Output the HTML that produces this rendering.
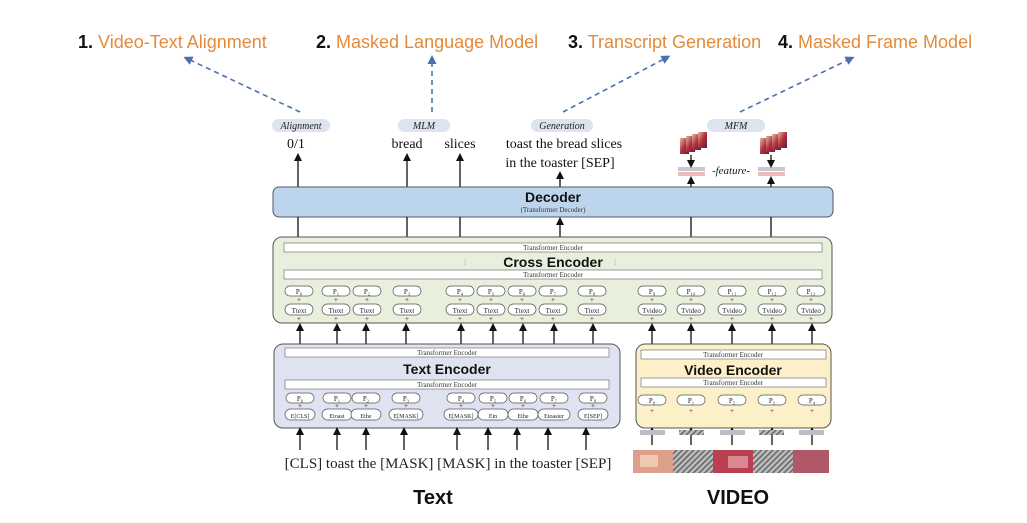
<!DOCTYPE html>
<html><head><meta charset="utf-8"><style>
html,body{margin:0;padding:0;background:#fff;}
svg{display:block;}
.s{font-family:"Liberation Serif",serif;}
.a{font-family:"Liberation Sans",sans-serif;}
</style></head><body>
<svg width="1027" height="523" viewBox="0 0 1027 523" xmlns="http://www.w3.org/2000/svg">
<defs>
<marker id="ah" markerWidth="8" markerHeight="8" refX="4" refY="4" orient="auto" markerUnits="userSpaceOnUse"><path d="M0,0 L8,4 L0,8 z" fill="#111"/></marker>
<marker id="bh" markerWidth="9" markerHeight="9" refX="4" refY="4.5" orient="auto" markerUnits="userSpaceOnUse"><path d="M0,0 L9,4.5 L0,9 z" fill="#4a6fae"/></marker>
<pattern id="hat" width="4" height="4" patternUnits="userSpaceOnUse" patternTransform="rotate(45)"><rect width="4" height="4" fill="#bbb"/><rect width="1.5" height="4" fill="#666"/></pattern>
<linearGradient id="fr" x1="0" y1="0" x2="1" y2="1"><stop offset="0" stop-color="#e8b8a0"/><stop offset="0.5" stop-color="#b03040"/><stop offset="1" stop-color="#602030"/></linearGradient>
</defs>

<!-- top titles -->
<g class="a" font-size="18">
<text x="78" y="48"><tspan font-weight="bold" fill="#111">1.</tspan><tspan fill="#e48a3c"> Video-Text Alignment</tspan></text>
<text x="316" y="48"><tspan font-weight="bold" fill="#111">2.</tspan><tspan fill="#e48a3c"> Masked Language Model</tspan></text>
<text x="568" y="48"><tspan font-weight="bold" fill="#111">3.</tspan><tspan fill="#e48a3c"> Transcript Generation</tspan></text>
<text x="778" y="48"><tspan font-weight="bold" fill="#111">4.</tspan><tspan fill="#e48a3c"> Masked Frame Model</tspan></text>
</g>
<g stroke="#4a6fae" stroke-width="1.6" stroke-dasharray="5,4" fill="none" marker-end="url(#bh)">
<line x1="300" y1="112" x2="188" y2="59"/>
<line x1="432" y1="112" x2="432" y2="60"/>
<line x1="563" y1="112" x2="666" y2="58"/>
<line x1="740" y1="112" x2="850" y2="59"/>
</g>

<!-- task pills -->
<g fill="#dde3ef">
<rect x="272" y="119" width="58" height="13" rx="6.5"/>
<rect x="398" y="119" width="52" height="13" rx="6.5"/>
<rect x="531" y="119" width="62" height="13" rx="6.5"/>
<rect x="707" y="119" width="58" height="13" rx="6.5"/>
</g>
<g class="s" font-style="italic" font-size="10" fill="#222" text-anchor="middle">
<text x="301" y="129">Alignment</text><text x="424" y="129">MLM</text><text x="562" y="129">Generation</text><text x="736" y="129">MFM</text>
</g>
<g class="s" font-size="14" fill="#111" text-anchor="middle">
<text x="296" y="148">0/1</text><text x="407" y="148">bread</text><text x="460" y="148">slices</text>
<text x="564" y="148">toast the bread slices</text><text x="560" y="167">in the toaster [SEP]</text>
</g>

<!-- MFM frames -->
<g>
<rect x="680" y="138" width="9" height="16" fill="url(#fr)"/><rect x="686" y="136" width="9" height="16" fill="url(#fr)"/><rect x="692" y="134" width="9" height="16" fill="url(#fr)"/><rect x="698" y="132" width="9" height="16" fill="url(#fr)"/>
<rect x="760" y="138" width="9" height="16" fill="url(#fr)"/><rect x="766" y="136" width="9" height="16" fill="url(#fr)"/><rect x="772" y="134" width="9" height="16" fill="url(#fr)"/><rect x="778" y="132" width="9" height="16" fill="url(#fr)"/>
<rect x="678" y="167" width="27" height="4" fill="#c8c8d0"/><rect x="678" y="172" width="27" height="4" fill="#f0b8b8"/>
<rect x="758" y="167" width="27" height="4" fill="#c8c8d0"/><rect x="758" y="172" width="27" height="4" fill="#f0b8b8"/>
<text x="731" y="174" class="s" font-style="italic" font-size="11" text-anchor="middle" fill="#222">-feature-</text>
</g>

<!-- arrows decoder -> outputs -->
<g stroke="#111" stroke-width="1.3" marker-end="url(#ah)">
<line x1="298" y1="187" x2="298" y2="157"/>
<line x1="407" y1="187" x2="407" y2="157"/>
<line x1="460" y1="187" x2="460" y2="157"/>
<line x1="560" y1="187" x2="560" y2="175"/>
<line x1="691" y1="187" x2="691" y2="180"/>
<line x1="771" y1="187" x2="771" y2="180"/>
<line x1="691" y1="155" x2="691" y2="164"/>
<line x1="771" y1="155" x2="771" y2="164"/>
</g>

<!-- Decoder -->
<rect x="273" y="187" width="560" height="30" rx="6" fill="#bcd5ec" stroke="#556" stroke-width="1"/>
<text x="553" y="202" class="a" font-weight="bold" font-size="14" text-anchor="middle" fill="#111">Decoder</text>
<text x="553" y="212" class="s" font-size="7" text-anchor="middle" fill="#333">(Transformer Decoder)</text>

<!-- cross -> decoder -->
<g stroke="#111" stroke-width="1.3">
<line x1="298" y1="217" x2="298" y2="237"/><line x1="407" y1="217" x2="407" y2="237"/><line x1="460" y1="217" x2="460" y2="237"/>
<line x1="691" y1="217" x2="691" y2="237"/><line x1="771" y1="217" x2="771" y2="237"/>
<line x1="560" y1="237" x2="560" y2="221" marker-end="url(#ah)"/>
</g>

<!-- Cross encoder -->
<rect x="273" y="237" width="559" height="86" rx="9" fill="#e8efdc" stroke="#555" stroke-width="1"/>
<rect x="284" y="243" width="538" height="9" fill="#fff" stroke="#777" stroke-width="0.7"/>
<rect x="284" y="270" width="538" height="9" fill="#fff" stroke="#777" stroke-width="0.7"/>
<g class="s" font-size="7" fill="#333" text-anchor="middle"><text x="553" y="250">Transformer Encoder</text><text x="553" y="277">Transformer Encoder</text></g>
<text x="553" y="267" class="a" font-weight="bold" font-size="14" text-anchor="middle" fill="#111">Cross Encoder</text>
<text x="464" y="265" font-size="8" fill="#aa9">⁞</text><text x="614" y="265" font-size="8" fill="#aa9">⁞</text>

<g fill="#fff" stroke="#555" stroke-width="0.7">
<!-- cross P row -->
<rect x="285" y="286" width="28" height="10" rx="5"/><rect x="322" y="286" width="28" height="10" rx="5"/><rect x="353" y="286" width="28" height="10" rx="5"/><rect x="393" y="286" width="28" height="10" rx="5"/>
<rect x="446" y="286" width="28" height="10" rx="5"/><rect x="477" y="286" width="28" height="10" rx="5"/><rect x="508" y="286" width="28" height="10" rx="5"/><rect x="539" y="286" width="28" height="10" rx="5"/><rect x="578" y="286" width="28" height="10" rx="5"/>
<rect x="638" y="286" width="28" height="10" rx="5"/><rect x="677" y="286" width="28" height="10" rx="5"/><rect x="718" y="286" width="28" height="10" rx="5"/><rect x="758" y="286" width="28" height="10" rx="5"/><rect x="797" y="286" width="28" height="10" rx="5"/>
<!-- cross T row -->
<rect x="285" y="304" width="28" height="11" rx="5.5"/><rect x="322" y="304" width="28" height="11" rx="5.5"/><rect x="353" y="304" width="28" height="11" rx="5.5"/><rect x="393" y="304" width="28" height="11" rx="5.5"/>
<rect x="446" y="304" width="28" height="11" rx="5.5"/><rect x="477" y="304" width="28" height="11" rx="5.5"/><rect x="508" y="304" width="28" height="11" rx="5.5"/><rect x="539" y="304" width="28" height="11" rx="5.5"/><rect x="578" y="304" width="28" height="11" rx="5.5"/>
<rect x="638" y="304" width="28" height="11" rx="5.5"/><rect x="677" y="304" width="28" height="11" rx="5.5"/><rect x="718" y="304" width="28" height="11" rx="5.5"/><rect x="758" y="304" width="28" height="11" rx="5.5"/><rect x="797" y="304" width="28" height="11" rx="5.5"/>
</g>
<g class="s" font-size="7" fill="#222" text-anchor="middle">
<text x="299" y="294">P₀</text><text x="336" y="294">P₁</text><text x="367" y="294">P₂</text><text x="407" y="294">P₃</text><text x="460" y="294">P₄</text><text x="491" y="294">P₅</text><text x="522" y="294">P₆</text><text x="553" y="294">P₇</text><text x="592" y="294">P₈</text>
<text x="652" y="294">P₉</text><text x="691" y="294">P₁₀</text><text x="732" y="294">P₁₁</text><text x="772" y="294">P₁₂</text><text x="811" y="294">P₁₃</text>
<text x="299" y="313">Ttext</text><text x="336" y="313">Ttext</text><text x="367" y="313">Ttext</text><text x="407" y="313">Ttext</text><text x="460" y="313">Ttext</text><text x="491" y="313">Ttext</text><text x="522" y="313">Ttext</text><text x="553" y="313">Ttext</text><text x="592" y="313">Ttext</text>
<text x="652" y="313">Tvideo</text><text x="691" y="313">Tvideo</text><text x="732" y="313">Tvideo</text><text x="772" y="313">Tvideo</text><text x="811" y="313">Tvideo</text>
<text x="299" y="302">+</text><text x="336" y="302">+</text><text x="367" y="302">+</text><text x="407" y="302">+</text><text x="460" y="302">+</text><text x="491" y="302">+</text><text x="522" y="302">+</text><text x="553" y="302">+</text><text x="592" y="302">+</text>
<text x="652" y="302">+</text><text x="691" y="302">+</text><text x="732" y="302">+</text><text x="772" y="302">+</text><text x="811" y="302">+</text>
<text x="299" y="321">+</text><text x="336" y="321">+</text><text x="367" y="321">+</text><text x="407" y="321">+</text><text x="460" y="321">+</text><text x="491" y="321">+</text><text x="522" y="321">+</text><text x="553" y="321">+</text><text x="592" y="321">+</text>
<text x="652" y="321">+</text><text x="691" y="321">+</text><text x="732" y="321">+</text><text x="772" y="321">+</text><text x="811" y="321">+</text>
</g>

<!-- arrows encoders -> cross -->
<g stroke="#111" stroke-width="1.3" marker-end="url(#ah)">
<line x1="300" y1="344" x2="300" y2="327"/><line x1="337" y1="344" x2="337" y2="327"/><line x1="366" y1="344" x2="366" y2="327"/><line x1="406" y1="344" x2="406" y2="327"/><line x1="461" y1="344" x2="461" y2="327"/><line x1="493" y1="344" x2="493" y2="327"/><line x1="523" y1="344" x2="523" y2="327"/><line x1="554" y1="344" x2="554" y2="327"/><line x1="593" y1="344" x2="593" y2="327"/>
<line x1="652" y1="344" x2="652" y2="327"/><line x1="691" y1="344" x2="691" y2="327"/><line x1="732" y1="344" x2="732" y2="327"/><line x1="772" y1="344" x2="772" y2="327"/><line x1="812" y1="344" x2="812" y2="327"/>
</g>

<!-- Text encoder -->
<rect x="274" y="344" width="346" height="84" rx="9" fill="#dfe3f1" stroke="#555" stroke-width="1"/>
<rect x="285" y="348" width="324" height="9" fill="#fff" stroke="#777" stroke-width="0.7"/>
<rect x="285" y="380" width="324" height="9" fill="#fff" stroke="#777" stroke-width="0.7"/>
<g class="s" font-size="7" fill="#333" text-anchor="middle"><text x="447" y="355">Transformer Encoder</text><text x="447" y="387">Transformer Encoder</text></g>
<text x="447" y="374" class="a" font-weight="bold" font-size="14" text-anchor="middle" fill="#111">Text Encoder</text>
<g fill="#fff" stroke="#555" stroke-width="0.7">
<rect x="286" y="393" width="28" height="10" rx="5"/><rect x="323" y="393" width="28" height="10" rx="5"/><rect x="352" y="393" width="28" height="10" rx="5"/><rect x="392" y="393" width="28" height="10" rx="5"/><rect x="447" y="393" width="28" height="10" rx="5"/><rect x="479" y="393" width="28" height="10" rx="5"/><rect x="509" y="393" width="28" height="10" rx="5"/><rect x="540" y="393" width="28" height="10" rx="5"/><rect x="579" y="393" width="28" height="10" rx="5"/>
<rect x="285" y="409" width="30" height="11" rx="5.5"/><rect x="322" y="409" width="30" height="11" rx="5.5"/><rect x="351" y="409" width="30" height="11" rx="5.5"/><rect x="389" y="409" width="34" height="11" rx="5.5"/><rect x="444" y="409" width="34" height="11" rx="5.5"/><rect x="478" y="409" width="30" height="11" rx="5.5"/><rect x="508" y="409" width="30" height="11" rx="5.5"/><rect x="538" y="409" width="32" height="11" rx="5.5"/><rect x="578" y="409" width="30" height="11" rx="5.5"/>
</g>
<g class="s" font-size="7" fill="#222" text-anchor="middle">
<text x="300" y="401">P₀</text><text x="337" y="401">P₁</text><text x="366" y="401">P₂</text><text x="406" y="401">P₃</text><text x="461" y="401">P₄</text><text x="493" y="401">P₅</text><text x="523" y="401">P₆</text><text x="554" y="401">P₇</text><text x="593" y="401">P₈</text>
<text x="300" y="408">+</text><text x="337" y="408">+</text><text x="366" y="408">+</text><text x="406" y="408">+</text><text x="461" y="408">+</text><text x="493" y="408">+</text><text x="523" y="408">+</text><text x="554" y="408">+</text><text x="593" y="408">+</text>
<text x="300" y="418" font-size="6">E[CLS]</text><text x="337" y="418" font-size="6">Etoast</text><text x="366" y="418" font-size="6">Ethe</text><text x="406" y="418" font-size="6">E[MASK]</text><text x="461" y="418" font-size="6">E[MASK]</text><text x="493" y="418" font-size="6">Ein</text><text x="523" y="418" font-size="6">Ethe</text><text x="554" y="418" font-size="6">Etoaster</text><text x="593" y="418" font-size="6">E[SEP]</text>
</g>

<!-- Video encoder -->
<rect x="636" y="344" width="195" height="84" rx="9" fill="#fbf0c8" stroke="#555" stroke-width="1"/>
<rect x="641" y="350" width="185" height="9" fill="#fff" stroke="#777" stroke-width="0.7"/>
<rect x="641" y="378" width="185" height="9" fill="#fff" stroke="#777" stroke-width="0.7"/>
<g class="s" font-size="7" fill="#333" text-anchor="middle"><text x="733" y="357">Transformer Encoder</text><text x="733" y="385">Transformer Encoder</text></g>
<text x="733" y="375" class="a" font-weight="bold" font-size="14" text-anchor="middle" fill="#111">Video Encoder</text>
<g fill="#fff" stroke="#555" stroke-width="0.7">
<rect x="638" y="395" width="28" height="10" rx="5"/><rect x="677" y="395" width="28" height="10" rx="5"/><rect x="718" y="395" width="28" height="10" rx="5"/><rect x="758" y="395" width="28" height="10" rx="5"/><rect x="798" y="395" width="28" height="10" rx="5"/>
</g>
<g class="s" font-size="7" fill="#222" text-anchor="middle">
<text x="652" y="403">P₀</text><text x="691" y="403">P₁</text><text x="732" y="403">P₂</text><text x="772" y="403">P₃</text><text x="812" y="403">P₄</text>
<text x="652" y="413">+</text><text x="691" y="413">+</text><text x="732" y="413">+</text><text x="772" y="413">+</text><text x="812" y="413">+</text>
</g>

<!-- bottom input arrows text -->
<g stroke="#111" stroke-width="1.3" marker-end="url(#ah)">
<line x1="300" y1="450" x2="300" y2="431"/><line x1="337" y1="450" x2="337" y2="431"/><line x1="366" y1="450" x2="366" y2="431"/><line x1="404" y1="450" x2="404" y2="431"/><line x1="457" y1="450" x2="457" y2="431"/><line x1="488" y1="450" x2="488" y2="431"/><line x1="517" y1="450" x2="517" y2="431"/><line x1="548" y1="450" x2="548" y2="431"/><line x1="586" y1="450" x2="586" y2="431"/>
<line x1="652" y1="445" x2="652" y2="431"/><line x1="691" y1="445" x2="691" y2="431"/><line x1="732" y1="445" x2="732" y2="431"/><line x1="772" y1="445" x2="772" y2="431"/><line x1="812" y1="445" x2="812" y2="431"/>
</g>
<text x="448" y="468" class="s" font-size="15" text-anchor="middle" fill="#222">[CLS] toast the [MASK] [MASK] in the toaster [SEP]</text>

<!-- video feature bars -->
<rect x="640" y="430" width="25" height="5" fill="#bdbdc6"/><rect x="679" y="430" width="25" height="5" fill="url(#hat)"/><rect x="720" y="430" width="25" height="5" fill="#bdbdc6"/><rect x="759" y="430" width="25" height="5" fill="url(#hat)"/><rect x="799" y="430" width="25" height="5" fill="#bdbdc6"/>
<!-- video frames -->
<g>
<rect x="633" y="450" width="40" height="23" fill="#dca08a"/>
<rect x="673" y="450" width="40" height="23" fill="url(#hat)"/>
<rect x="713" y="450" width="40" height="23" fill="#b84050"/>
<rect x="753" y="450" width="40" height="23" fill="url(#hat)"/>
<rect x="793" y="450" width="36" height="23" fill="#b05868"/>
<rect x="728" y="456" width="20" height="12" fill="#d88890"/>
<rect x="640" y="455" width="18" height="12" fill="#f0c8b0"/>
</g>

<text x="433" y="504" class="a" font-weight="bold" font-size="20" text-anchor="middle" fill="#111">Text</text>
<text x="738" y="504" class="a" font-weight="bold" font-size="20" text-anchor="middle" fill="#111">VIDEO</text>
</svg>
</body></html>
